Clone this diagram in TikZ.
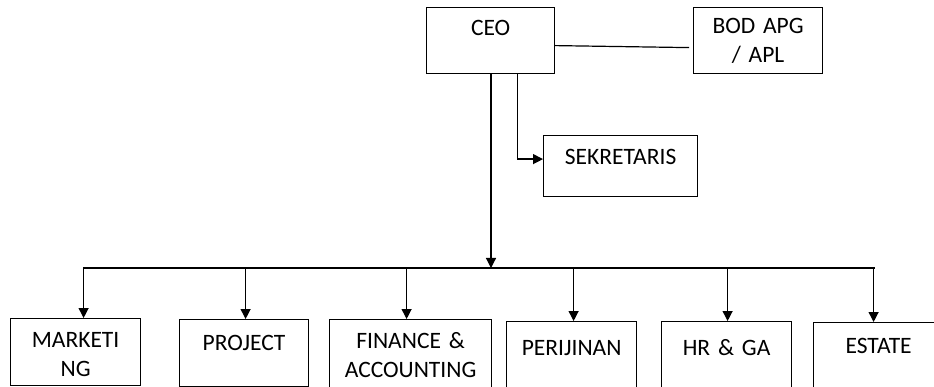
\documentclass[tikz,border=0pt]{standalone}
\usepackage{fontspec}
\setmainfont[WordSpace=0.75]{Carlito}
\usetikzlibrary{arrows.meta,calc}

\begin{document}
\begin{tikzpicture}[
    x=1pt, y=-1pt,
    line width=1.2pt,
    every node/.style={
        draw,
        anchor=north west,
        inner sep=0pt,
        align=center,
        font=\fontsize{23.5}{29}\selectfont
    },
    unit/.style n args={3}{text width=#1, text height=#2, text depth=#3},
    pointer/.style={-{Triangle[length=10pt,width=10pt]}}
]
\useasboundingbox (0,0) rectangle (934,387);
\clip (0,0) rectangle (934,387);

% top level
\node[unit={128pt}{28pt}{38pt}] (ceo) at (426,7) {CEO};
\node[unit={129pt}{26pt}{40pt}] (bod) at (693,7) {BOD APG\\/ APL};
\node[unit={154pt}{29pt}{32pt}] (sek) at (543,135) {SEKRETARIS};

% divisions
\node[unit={130pt}{29pt}{38pt}] (mkt) at (10,318) {MARKETI\\NG};
\node[unit={129pt}{31pt}{36pt}] (prj) at (179,319) {PROJECT};
\node[unit={162pt}{29pt}{40pt}] (fin) at (329,319) {FINANCE \&\\ACCOUNTING};
\node[unit={130pt}{34pt}{40pt}] (per) at (506,321) {PERIJINAN};
\node[unit={130pt}{34pt}{40pt}] (hr) at (661,321) {HR \& GA};
\node[unit={130pt}{31pt}{40pt}] (est) at (813,322) {ESTATE};

\coordinate (hub) at (491,268);
\coordinate (busw) at (83,268);
\coordinate (buse) at (875,268);

\draw ([yshift=-5pt]ceo.east) -- ([xshift=-4pt,yshift=-7pt]bod.west);
\draw[pointer] (ceo.south -| hub) -- (hub);
\draw[pointer] ([xshift=27pt]ceo.south) |- ([yshift=7pt]sek.west);
\draw (busw) -- (buse);
\foreach \unitname/\dx in {mkt/8, prj/1.5, fin/-4, per/2, hr/1, est/-5}
    \draw[pointer] ($(\unitname.north |- busw)+(\dx,0)$) -- ($(\unitname.north)+(\dx,0)$);
\end{tikzpicture}
\end{document}
